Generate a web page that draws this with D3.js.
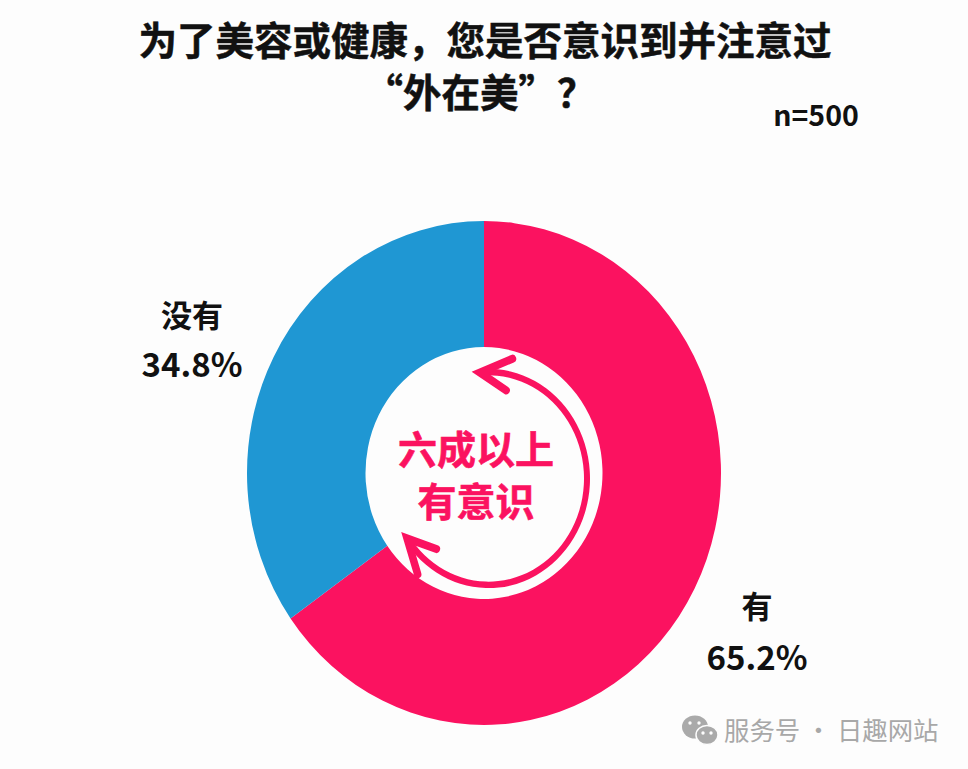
<!DOCTYPE html>
<html>
<head>
<meta charset="utf-8">
<script src="https://d3js.org/d3.v7.min.js"></script>
<style>
html, body { margin: 0; padding: 0; background: #fdfdfd; }
svg { display: block; }
text { font-family: "Noto Sans CJK SC", "Noto Sans", sans-serif; font-weight: 700; fill: #111; }
</style>
</head>
<body>
<svg id="chart" width="968" height="769"></svg>
<script>
const categories = ["有", "没有"];
const values = [65.2, 34.8];
const colours = ["#fb1260", "#1f97d3"];
const titleLines = ["为了美容或健康，您是否意识到并注意过", "“外在美”？"];
const sampleLabel = "n=500";
const centreLines = ["六成以上", "有意识"];
const footer = "服务号 · 日趣网站";

const svg = d3.select("#chart");

// the donut in the picture is a bit taller than wide
const cx = 484, cy = 473, stretchY = 1.063;
const outerR = 237, innerR = 118.5;

const donut = svg.append("g")
    .attr("transform", "translate(" + cx + "," + cy + ") scale(1," + stretchY + ")");

const pie = d3.pie().sort(null);
const arc = d3.arc().innerRadius(innerR).outerRadius(outerR);

donut.selectAll("path.slice")
    .data(pie(values))
    .join("path")
    .attr("class", "slice")
    .attr("d", arc)
    .attr("fill", (d, i) => colours[i]);

/* circular arrow in the hole, not quite concentric with the donut */
const ringR = 98.5;
const startA = -5 * Math.PI / 180;
const endA = 235.8 * Math.PI / 180;
const pink = colours[0];

const ring = svg.append("g")
    .attr("transform", "translate(488.5,478.5) scale(1,1.08)");

ring.append("path")
    .attr("d", d3.arc().innerRadius(ringR - 3).outerRadius(ringR + 3).startAngle(startA + 0.05).endAngle(endA - 0.05)())
    .attr("fill", pink);

function polar(a, r) {
    return [r * Math.sin(a), -r * Math.cos(a)];
}

function arrowHead(a, dir) {
    const tip = polar(a, ringR);
    const back = a + dir * 0.3;
    const p1 = polar(back, ringR + 15);
    const p2 = polar(back, ringR - 15);
    ring.append("path")
        .attr("d", d3.line()([p1, tip, p2]))
        .attr("fill", "none")
        .attr("stroke", pink)
        .attr("stroke-width", 7.5)
        .attr("stroke-linecap", "round")
        .attr("stroke-linejoin", "miter");
}
arrowHead(startA, 1);
arrowHead(endA, -1);

/* title */
svg.selectAll("text.title")
    .data(titleLines)
    .join("text")
    .attr("class", "title")
    .attr("x", (d, i) => i ? 480 : 485)
    .attr("y", (d, i) => 55 + i * 52)
    .attr("text-anchor", "middle")
    .attr("font-size", 38.5)
    .style("stroke", "#111")
    .style("stroke-width", 0.5)
    .text(d => d);

svg.append("text")
    .attr("x", 816).attr("y", 126)
    .attr("text-anchor", "middle")
    .attr("font-size", 28.5)
    .text(sampleLabel);

/* slice labels */
const labelPos = [[757, 618, 670], [192, 327, 377]];
categories.forEach((c, i) => {
    svg.append("text")
        .attr("x", labelPos[i][0]).attr("y", labelPos[i][1])
        .attr("text-anchor", "middle").attr("font-size", 31)
        .text(c);
    svg.append("text")
        .attr("x", labelPos[i][0]).attr("y", labelPos[i][2])
        .attr("text-anchor", "middle").attr("font-size", 33)
        .text(values[i].toFixed(1) + "%");
});

/* centre text */
svg.selectAll("text.centre")
    .data(centreLines)
    .join("text")
    .attr("class", "centre")
    .attr("x", 476)
    .attr("y", (d, i) => 464 + i * 52)
    .attr("text-anchor", "middle")
    .attr("font-size", 39)
    .style("fill", pink)
    .style("stroke", pink)
    .style("stroke-width", 0.6)
    .text(d => d);

/* wechat style footer */
const wm = svg.append("g").attr("fill", "#aaa");
wm.append("ellipse").attr("cx", 695).attr("cy", 727).attr("rx", 13).attr("ry", 11.5);
wm.append("ellipse").attr("cx", 707).attr("cy", 735).attr("rx", 11).attr("ry", 9.5).attr("stroke", "#fdfdfd").attr("stroke-width", 1.5);
[[690, 723], [699, 723], [703, 733], [711, 733]].forEach(p => {
    wm.append("circle").attr("cx", p[0]).attr("cy", p[1]).attr("r", 1.7).attr("fill", "#fdfdfd");
});

svg.append("text")
    .attr("x", 724).attr("y", 740)
    .attr("font-size", 25.4)
    .style("font-weight", 400)
    .style("fill", "#a8a8a8")
    .text(footer);
</script>
</body>
</html>
